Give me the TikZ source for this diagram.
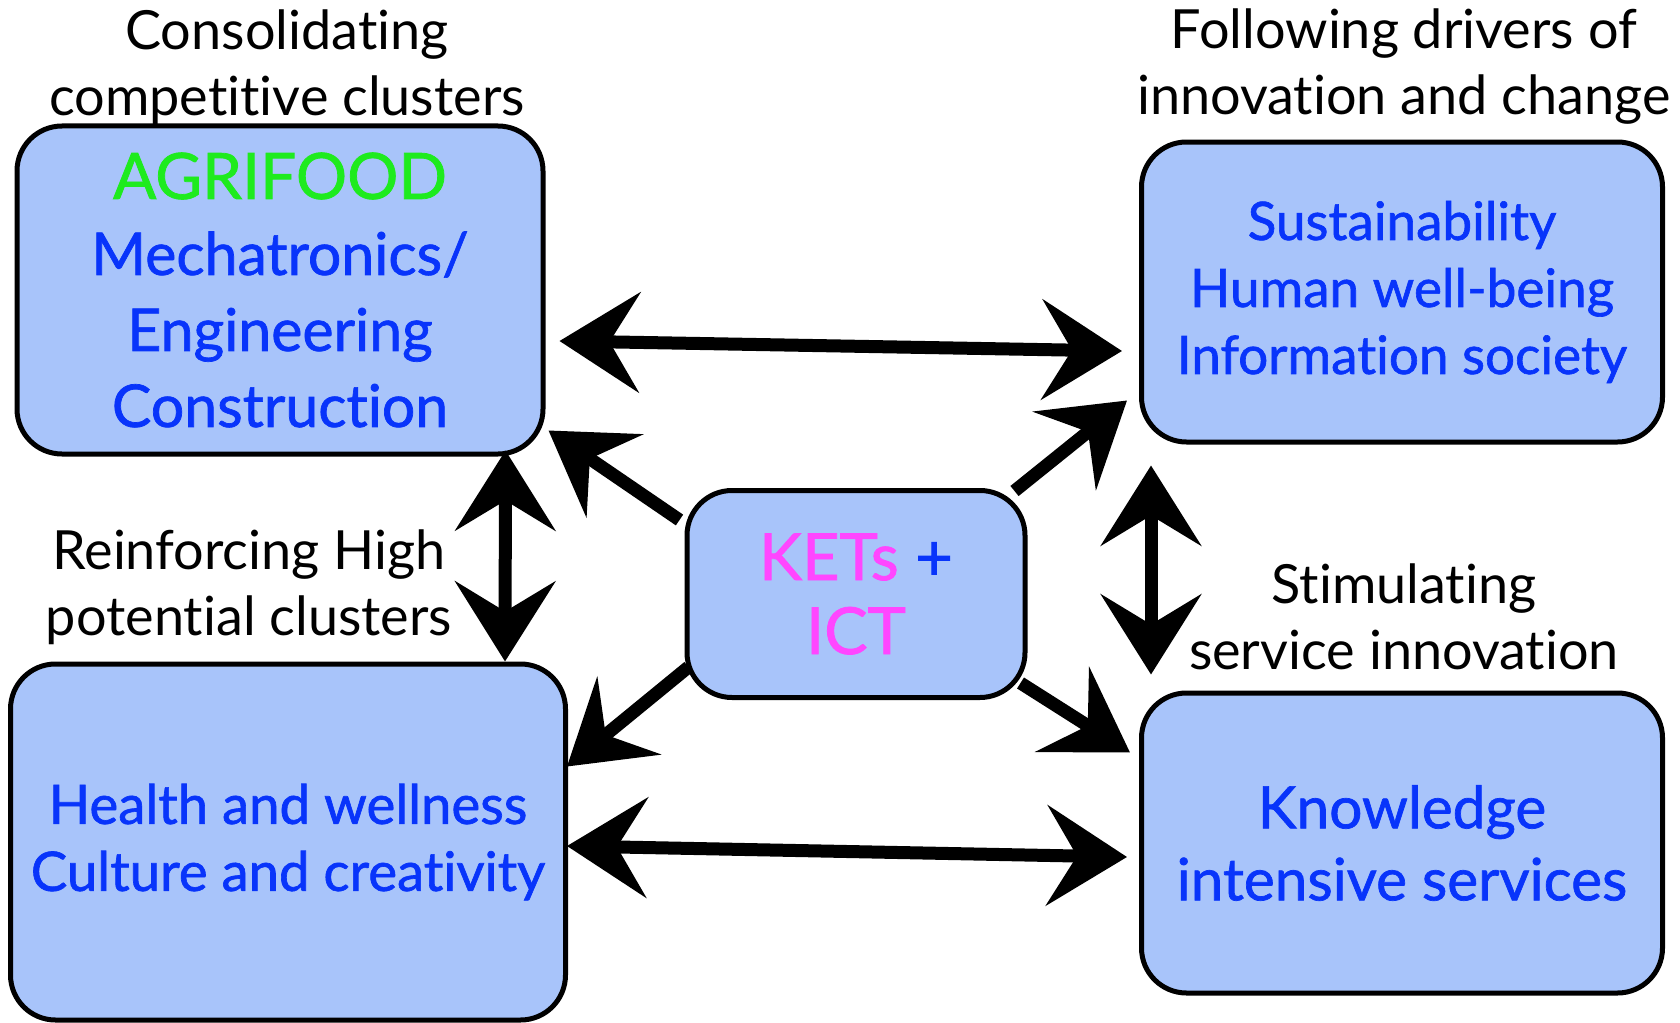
\documentclass[tikz,border=0pt]{standalone}
\usepackage{fontspec}
\setmainfont{Lato}[Ligatures={NoCommon}]
\newfontfamily\boxfont{Lato}[FakeBold=1.2,Ligatures={NoCommon}]
\usepackage{xcolor}
\usetikzlibrary{arrows.meta,positioning}

\definecolor{boxfill}{RGB}{168,196,250}
\definecolor{txtblue}{RGB}{8,52,250}
\definecolor{txtgreen}{RGB}{30,235,30}
\definecolor{txtpink}{RGB}{255,70,255}

\begin{document}
\begin{tikzpicture}
    [x=1pt,y=-1pt,
     >={Stealth[length=80pt,width=100pt,inset=30pt]},
     box/.style={draw=black,line width=5pt,fill=boxfill,rounded corners=45pt,
                 align=center,text=txtblue,inner sep=0pt},
     lbl/.style={align=center,font=\fontsize{54}{66}\selectfont},
     arr/.style={line width=13pt,black}]

    \useasboundingbox (0,0) rectangle (1680,1022);

    % boxes
    \node[box,minimum width=526pt,minimum height=328pt,
          font=\boxfont\fontsize{59}{76}\selectfont] (agri) at (280,290)
          {\textcolor{txtgreen}{\fontsize{64}{76}\selectfont AGRIFOOD}\\Mechatronics/\\Engineering\\Construction};
    \node[box,minimum width=521pt,minimum height=300pt,
          font=\boxfont\fontsize{53}{67}\selectfont] (sust) at (1402,292)
          {Sustainability\\Human well-being\\Information society};
    \node[box,minimum width=555pt,minimum height=356pt,
          font=\boxfont\fontsize{54.5}{67}\selectfont] (health) at (288,842)
          {Health and wellness\\Culture and creativity};
    \node[box,minimum width=521pt,minimum height=300pt,
          font=\boxfont\fontsize{58.5}{72}\selectfont] (know) at (1402,843)
          {Knowledge\\intensive services};
    \node[box,minimum width=338pt,minimum height=207pt,text=txtpink,
          font=\boxfont\fontsize{65}{74}\selectfont] (kets) at (856,594)
          {KETs \textcolor{txtblue}{+}\\ICT};

    % labels
    \node[lbl] (cons) at (287,67) {Consolidating\\competitive clusters};
    \node[lbl] (foll) at (1404,67) {Following drivers of\\innovation and change};
    \node[lbl] (reinf) at (249,587) {Reinforcing High\\potential clusters};
    \node[lbl] (stim) at (1404,617) {Stimulating\\service innovation};

    \path[arr]
    ([shift={(14,51)}]agri.east) edge [<->] ([shift={(-17,59)}]sust.west)
    ([shift={(-1,4)}]health.east) edge [<->] ([shift={(-12,14)}]know.west)
    ([shift={(-40,-6)}]agri.south east) edge [<->] ([shift={(-63,0)}]health.north east)
    ([shift={(12,21)}]sust.south west) edge [<->] ([shift={(12,-16)}]know.north west)
    ([shift={(-5,32)}]kets.north west) edge [->] ([shift={(3,-26)}]agri.south east)
    ([shift={(-13,3)}]kets.north east) edge [->] ([shift={(-12,-44)}]sust.south west)
    ([shift={(4,-33)}]kets.south west) edge [->] ([shift={(-1,105)}]health.north east)
    ([shift={(-7,-17)}]kets.south east) edge [->] ([shift={(-9,62)}]know.north west)
    ;

\end{tikzpicture}
\end{document}
